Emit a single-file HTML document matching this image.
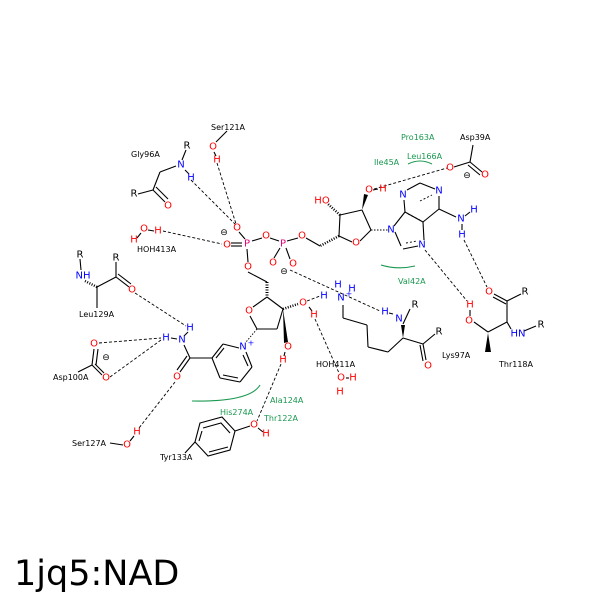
<!DOCTYPE html>
<html><head><style>
body{margin:0;background:#fff}
svg{display:block}
text{font-family:"DejaVu Sans","Liberation Sans",sans-serif}
.l{font-size:8px;fill:#000}
.g{font-size:8px;fill:#1a9850}
.a{font-size:10px;text-anchor:middle;dominant-baseline:central}
.O{fill:#f00}.N{fill:#00f}.P{fill:#e0007a}.K{fill:#000}
.b{stroke:#000;stroke-width:1.1;fill:none}
.h{stroke:#000;stroke-width:0.9;stroke-dasharray:3,2;fill:none}
.gr{stroke:#1a9850;stroke-width:1.1;fill:none}
</style></head><body>
<svg width="600" height="600" viewBox="0 0 600 600">
<rect width="600" height="600" fill="#fff"/>
<g class="h">
<line x1="191" y1="180" x2="237" y2="226"/>
<line x1="217" y1="163" x2="236" y2="224"/>
<line x1="163" y1="231" x2="222" y2="244"/>
<line x1="135" y1="293" x2="186" y2="326"/>
<line x1="99" y1="343" x2="161" y2="338"/>
<line x1="110" y1="377" x2="161" y2="340"/>
<line x1="175" y1="382" x2="139" y2="428"/>
<line x1="281" y1="364" x2="257" y2="421"/>
<line x1="315" y1="319" x2="339" y2="373"/>
<line x1="307" y1="301" x2="320" y2="296"/>
<line x1="290" y1="270" x2="380" y2="311"/>
<line x1="374" y1="189" x2="447" y2="168"/>
<line x1="464" y1="240" x2="487" y2="287"/>
<line x1="425" y1="250" x2="467" y2="301"/>
<line x1="257" y1="329" x2="246" y2="342" stroke-dasharray="1.5,1.5"/>
<line x1="371" y1="230" x2="388" y2="230" stroke-dasharray="1.5,1.5"/>
<line x1="267" y1="282" x2="267" y2="296" stroke-dasharray="1,1.5" stroke-width="3"/>
<line x1="340" y1="215" x2="328" y2="204" stroke-dasharray="1,1.5" stroke-width="2.5"/>
<line x1="339" y1="236" x2="320" y2="246" stroke-dasharray="1,1.5" stroke-width="2.5"/>
<line x1="283" y1="309" x2="298" y2="304" stroke-dasharray="1,1.5" stroke-width="2.5"/>
<line x1="97" y1="287" x2="85" y2="281" stroke-dasharray="1,1.5" stroke-width="2.5"/>
<line x1="420" y1="201" x2="432" y2="195" stroke-dasharray="2,2"/>
<line x1="408" y1="214" x2="420" y2="220" stroke-dasharray="2,2"/>
<line x1="406" y1="243" x2="417" y2="241" stroke-dasharray="2,2"/>
</g>
<g class="b">
<line x1="186" y1="150" x2="182" y2="160"/><line x1="176" y1="166" x2="160" y2="172"/><line x1="160" y1="172" x2="153" y2="190"/><line x1="153" y1="190" x2="138" y2="194"/><line x1="153" y1="190" x2="165" y2="202"/><line x1="156" y1="187" x2="168" y2="199"/><line x1="185" y1="170" x2="189" y2="174"/>
<line x1="227" y1="131" x2="216" y2="142"/><line x1="214" y1="152" x2="216" y2="156"/>
<line x1="148" y1="230" x2="154" y2="231"/><line x1="141" y1="233" x2="137" y2="238"/>
<line x1="239" y1="232" x2="245" y2="239"/><line x1="231" y1="243" x2="242" y2="243"/><line x1="231" y1="246" x2="242" y2="246"/>
<line x1="252" y1="241" x2="262" y2="238"/><line x1="270" y1="238" x2="279" y2="241"/><line x1="287" y1="241" x2="298" y2="238"/>
<line x1="247" y1="249" x2="248" y2="262"/><line x1="280" y1="248" x2="274" y2="258"/><line x1="286" y1="248" x2="290" y2="259"/>
<line x1="306" y1="238" x2="320" y2="246"/>
<line x1="339" y1="236" x2="352" y2="242"/><line x1="360" y1="241" x2="371" y2="230"/><line x1="371" y1="230" x2="362" y2="210"/><line x1="362" y1="210" x2="340" y2="215"/><line x1="340" y1="215" x2="339" y2="236"/>
<line x1="373" y1="190" x2="378" y2="189"/>
<line x1="395" y1="232" x2="401" y2="246"/><line x1="403" y1="249" x2="418" y2="246"/><line x1="424" y1="240" x2="423" y2="222"/><line x1="423" y1="222" x2="405" y2="212"/><line x1="405" y1="212" x2="394" y2="226"/>
<line x1="405" y1="212" x2="404" y2="200"/><line x1="407" y1="190" x2="420" y2="183"/><line x1="420" y1="183" x2="435" y2="189"/><line x1="439" y1="196" x2="439" y2="209"/><line x1="439" y1="209" x2="423" y2="222"/>
<line x1="439" y1="209" x2="456" y2="217"/><line x1="465" y1="216" x2="470" y2="212"/><line x1="462" y1="224" x2="462" y2="230"/>
<line x1="473" y1="145" x2="470" y2="162"/><line x1="470" y1="162" x2="454" y2="167"/><line x1="470" y1="162" x2="482" y2="172"/><line x1="468" y1="165" x2="480" y2="175"/>
<line x1="494" y1="294" x2="507" y2="301"/><line x1="493" y1="297" x2="506" y2="304"/><line x1="507" y1="301" x2="521" y2="294"/><line x1="507" y1="301" x2="507" y2="322"/><line x1="507" y1="322" x2="511" y2="329"/><line x1="524" y1="331" x2="536" y2="326"/><line x1="507" y1="322" x2="488" y2="332"/><line x1="488" y1="332" x2="474" y2="322"/><line x1="470" y1="316" x2="470" y2="310"/>
<line x1="343" y1="305" x2="343" y2="318"/><line x1="343" y1="318" x2="367" y2="325"/><line x1="367" y1="325" x2="368" y2="347"/><line x1="368" y1="347" x2="388" y2="352"/><line x1="388" y1="352" x2="403" y2="338"/><line x1="403" y1="338" x2="423" y2="344"/><line x1="423" y1="344" x2="435" y2="334"/><line x1="423" y1="344" x2="426" y2="360"/><line x1="420" y1="345" x2="423" y2="361"/><line x1="403" y1="324" x2="410" y2="309"/><line x1="393" y1="314" x2="389" y2="313"/>
<line x1="346" y1="378" x2="349" y2="378"/>
<line x1="248" y1="272" x2="267" y2="282"/><line x1="267" y1="297" x2="253" y2="307"/><line x1="250" y1="316" x2="257" y2="329"/><line x1="257" y1="329" x2="277" y2="329"/><line x1="277" y1="329" x2="283" y2="309"/><line x1="283" y1="309" x2="267" y2="297"/><line x1="309" y1="307" x2="312" y2="311"/><line x1="285" y1="352" x2="284" y2="356"/>
<line x1="239" y1="348" x2="223" y2="344"/><line x1="223" y1="344" x2="212" y2="358"/><line x1="212" y1="358" x2="220" y2="378"/><line x1="220" y1="378" x2="240" y2="382"/><line x1="240" y1="382" x2="252" y2="367"/><line x1="252" y1="367" x2="246" y2="352"/>
<line x1="224" y1="348" x2="216" y2="358"/><line x1="223" y1="375" x2="238" y2="378"/><line x1="248" y1="366" x2="243" y2="355"/>
<line x1="212" y1="358" x2="190" y2="358"/><line x1="190" y1="358" x2="184" y2="345"/><line x1="190" y1="358" x2="180" y2="372"/><line x1="187" y1="356" x2="177" y2="370"/><line x1="184" y1="336" x2="188" y2="332"/><line x1="171" y1="338" x2="177" y2="339"/>
<line x1="92" y1="365" x2="94" y2="349"/><line x1="92" y1="365" x2="102" y2="375"/><line x1="95" y1="364" x2="104" y2="373"/><line x1="92" y1="365" x2="78" y2="372"/><line x1="96" y1="365" x2="98" y2="349"/>
<line x1="80" y1="259" x2="81" y2="270"/><line x1="97" y1="287" x2="116" y2="277"/><line x1="116" y1="277" x2="116" y2="262"/><line x1="116" y1="277" x2="129" y2="287"/><line x1="118" y1="274" x2="131" y2="284"/><line x1="97" y1="287" x2="97" y2="308"/>
<line x1="110" y1="443" x2="123" y2="445"/><line x1="130" y1="441" x2="134" y2="436"/>
<polygon points="200,423 222,417 235,431 230,450 208,456 195,442"/>
<polyline points="203,428 221,423 230,433"/><polyline points="228,447 209,452"/><line x1="199" y1="441" x2="202" y2="431"/>
<line x1="235" y1="431" x2="250" y2="426"/><line x1="195" y1="442" x2="185" y2="453"/><line x1="258" y1="428" x2="263" y2="432"/>
</g>
<polygon points="362,210 364,194 368,195" fill="#000"/>
<polygon points="488,333 485,352 491,352" fill="#000"/>
<polygon points="283,309 288,342 284,343" fill="#000"/>
<polygon points="403,338 401,325 405,325" fill="#000"/>
<path class="gr" d="M192,401 Q250,402 260,385"/>
<path class="gr" d="M381,265 Q398,270 415,266"/>
<path class="gr" d="M408,164 Q420,158 432,164"/>
<g class="a">
<text x="187" y="146" class="K">R</text><text x="181" y="165" class="N">N</text><text x="191" y="178" class="N">H</text><text x="134" y="194" class="K">R</text><text x="168" y="206" class="O">O</text>
<text x="213" y="147" class="O">O</text><text x="217" y="160" class="O">H</text>
<text x="144" y="229" class="O">O</text><text x="158" y="231" class="O">H</text><text x="134" y="240" class="O">H</text>
<text x="237" y="228" class="O">O</text><text x="227" y="245" class="O">O</text><text x="247" y="244" class="P">P</text><text x="266" y="236" class="O">O</text><text x="283" y="244" class="P">P</text><text x="302" y="236" class="O">O</text><text x="248" y="267" class="O">O</text><text x="273" y="263" class="O">O</text><text x="293" y="264" class="O">O</text>
<text x="224" y="233" class="K" style="font-size:9px">⊖</text><text x="284" y="272" class="K" style="font-size:9px">⊖</text>
<text x="356" y="243" class="O">O</text><text x="369" y="190" class="O">O</text><text x="383" y="189" class="O">H</text><text x="322" y="201" class="O">HO</text>
<text x="391" y="230" class="N">N</text><text x="422" y="245" class="N">N</text><text x="403" y="195" class="N">N</text><text x="439" y="191" class="N">N</text><text x="461" y="219" class="N">N</text><text x="474" y="210" class="N">H</text><text x="462" y="235" class="N">H</text>
<text x="450" y="168" class="O">O</text><text x="485" y="175" class="O">O</text><text x="467" y="176" class="K" style="font-size:9px">⊖</text>
<text x="489" y="292" class="O">O</text><text x="525" y="292" class="K">R</text><text x="518" y="334" class="N">HN</text><text x="541" y="325" class="K">R</text><text x="469" y="321" class="O">O</text><text x="470" y="305" class="O">H</text>
<text x="341" y="298" class="N">N</text><text x="349" y="294" class="N" style="font-size:8px">+</text><text x="338" y="285" class="N">H</text><text x="352" y="289" class="N">H</text><text x="324" y="296" class="N">H</text>
<text x="399" y="319" class="N">N</text><text x="385" y="312" class="N">H</text><text x="415" y="305" class="K">R</text><text x="439" y="332" class="K">R</text><text x="428" y="366" class="O">O</text>
<text x="341" y="378" class="O">O</text><text x="353" y="378" class="O">H</text><text x="340" y="392" class="O">H</text>
<text x="249" y="311" class="O">O</text><text x="303" y="303" class="O">O</text><text x="314" y="315" class="O">H</text><text x="288" y="347" class="O">O</text><text x="283" y="360" class="O">H</text>
<text x="243" y="347" class="N">N</text><text x="251" y="343" class="N" style="font-size:8px">+</text>
<text x="182" y="340" class="N">N</text><text x="190" y="328" class="N">H</text><text x="166" y="338" class="N">H</text><text x="177" y="377" class="O">O</text>
<text x="94" y="344" class="O">O</text><text x="106" y="378" class="O">O</text><text x="106" y="358" class="K" style="font-size:9px">⊖</text>
<text x="80" y="255" class="K">R</text><text x="83" y="276" class="N">NH</text><text x="116" y="258" class="K">R</text><text x="132" y="290" class="O">O</text>
<text x="127" y="445" class="O">O</text><text x="137" y="432" class="O">H</text>
<text x="254" y="425" class="O">O</text><text x="266" y="434" class="O">H</text>
</g>
<g>
<text x="131" y="157" class="l">Gly96A</text><text x="211" y="130" class="l">Ser121A</text><text x="137" y="252" class="l">HOH413A</text>
<text x="460" y="140" class="l">Asp39A</text><text x="499" y="367" class="l">Thr118A</text><text x="442" y="358" class="l">Lys97A</text><text x="316" y="367" class="l">HOH411A</text>
<text x="79" y="317" class="l">Leu129A</text><text x="53" y="380" class="l">Asp100A</text><text x="72" y="446" class="l">Ser127A</text><text x="160" y="460" class="l">Tyr133A</text>
<text x="401" y="140" class="g">Pro163A</text><text x="374" y="165" class="g">Ile45A</text><text x="407" y="159" class="g">Leu166A</text><text x="398" y="284" class="g">Val42A</text>
<text x="220" y="415" class="g">His274A</text><text x="270" y="403" class="g">Ala124A</text><text x="264" y="421" class="g">Thr122A</text>
<text x="14" y="585" style="font-size:35px">1jq5:NAD</text>
</g>
</svg>
</body></html>
